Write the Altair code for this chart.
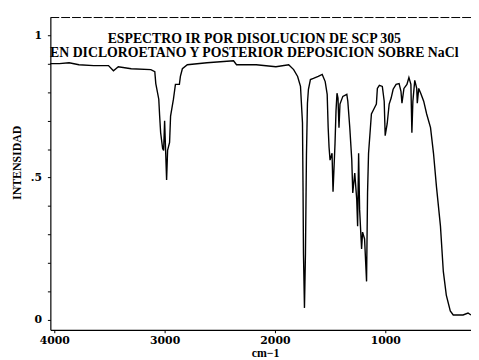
import altair as alt
import pandas as pd

# Spectrum (wavenumber in cm-1, intensity 0..1)
wavenumber = [4036, 3955, 3866, 3777, 3643, 3509, 3464, 3420, 3303, 3125,
              3089, 3080, 3053, 3045, 3036, 3018, 3009, 3000, 2991, 2982,
              2973, 2955, 2946, 2920, 2902, 2866, 2857, 2839, 2794, 2616,
              2375, 2348, 2169, 1991, 1875, 1830, 1794, 1768, 1750, 1745,
              1741, 1732, 1723, 1714, 1705, 1696, 1678, 1651, 1607, 1571,
              1544, 1526, 1517, 1509, 1500, 1482, 1473, 1455, 1446, 1437,
              1428, 1419, 1410, 1384, 1348, 1339, 1321, 1303, 1294, 1276,
              1258, 1250, 1241, 1232, 1214, 1205, 1187, 1169, 1160, 1151,
              1134, 1125, 1098, 1080, 1071, 1053, 1026, 1009, 1000, 982,
              964, 946, 928, 901, 874, 857, 848, 830, 803, 785,
              767, 758, 749, 732, 714, 709, 696, 678, 651, 624,
              589, 562, 535, 499, 473, 446, 410, 383, 294, 249,
              222]
intensity = [0.900, 0.900, 0.903, 0.896, 0.893, 0.893, 0.875, 0.889, 0.882, 0.879,
             0.872, 0.830, 0.775, 0.716, 0.657, 0.602, 0.595, 0.699, 0.595, 0.491,
             0.595, 0.623, 0.716, 0.775, 0.827, 0.827, 0.855, 0.882, 0.896, 0.903,
             0.910, 0.896, 0.896, 0.889, 0.896, 0.879, 0.855, 0.820, 0.692, 0.464,
             0.232, 0.042, 0.232, 0.578, 0.761, 0.810, 0.844, 0.848, 0.855, 0.862,
             0.837, 0.792, 0.675, 0.606, 0.561, 0.585, 0.450, 0.619, 0.734, 0.796,
             0.779, 0.675, 0.758, 0.785, 0.792, 0.768, 0.675, 0.561, 0.446, 0.516,
             0.422, 0.329, 0.585, 0.388, 0.249, 0.308, 0.284, 0.135, 0.446, 0.585,
             0.675, 0.723, 0.744, 0.758, 0.813, 0.824, 0.820, 0.768, 0.647, 0.689,
             0.758, 0.779, 0.810, 0.827, 0.830, 0.803, 0.761, 0.813, 0.827, 0.851,
             0.827, 0.657, 0.768, 0.841, 0.813, 0.761, 0.813, 0.796, 0.768, 0.723,
             0.675, 0.585, 0.467, 0.329, 0.170, 0.087, 0.031, 0.017, 0.017, 0.024,
             0.017]

x_ticks = [4000, 3000, 2000, 1000]
y_ticks = [0, 0.1, 0.2, 0.3, 0.4, 0.5, 0.6, 0.7, 0.8, 0.9, 1]
title_line1 = "ESPECTRO IR POR DISOLUCION DE SCP 305"
title_line2 = "EN DICLOROETANO Y POSTERIOR DEPOSICION SOBRE NaCl"
x_title = "cm\u22121"
y_title = "INTENSIDAD"

df = pd.DataFrame({"wavenumber": wavenumber, "intensity": intensity,
                   "idx": list(range(len(wavenumber)))})
one = pd.DataFrame({"k": [0]})

W, H = 427, 317
FONT = "Liberation Serif"
LFONT = "DejaVu Serif"

x_enc = alt.X("wavenumber:Q",
              scale=alt.Scale(domain=[222, 4036], reverse=True, nice=False, zero=False),
              axis=alt.Axis(values=x_ticks, format="d", title=x_title, grid=False,
                            domainColor="black", domainWidth=1.2, tickColor="black",
                            tickSize=3, labelPadding=2, labelFont=LFONT, labelFontSize=11,
                            labelFontWeight="bold", labelColor="black",
                            titleFont=FONT, titleFontSize=12, titleFontWeight="bold",
                            titleColor="black", titleX=218, titleY=27,
                            titleBaseline="alphabetic"))
y_enc = alt.Y("intensity:Q",
              scale=alt.Scale(domain=[-0.035, 1.062], nice=False, zero=False),
              axis=alt.Axis(values=y_ticks,
                            labelExpr="datum.value == 0 ? '0' : (abs(datum.value - 0.5) < 0.001 ? '.5' : (datum.value == 1 ? '1' : ''))",
                            title=y_title, grid=False, domainColor="black", domainWidth=1.2,
                            tickColor="black", tickSize=3, labelPadding=6, labelFont=LFONT,
                            labelFontSize=11, labelFontWeight="bold", labelColor="black",
                            titleFont=FONT, titleFontSize=12, titleFontWeight="bold",
                            titleColor="black", titleX=-27, titleY=147))

spectrum = alt.Chart(df).mark_line(color="black", strokeWidth=1.4).encode(
    x=x_enc, y=y_enc, order="idx:Q")

top_frame = alt.Chart(one).mark_rule(color="black", strokeWidth=1, strokeDash=[9, 2]).encode(
    x=alt.value(0), x2=alt.value(W), y=alt.value(0))

head1 = alt.Chart(one).mark_text(text=title_line1, font=FONT, fontSize=14, fontWeight="bold",
                                 color="black", align="center", baseline="middle").encode(
    x=alt.value(207), y=alt.value(22))
head2 = alt.Chart(one).mark_text(text=title_line2, font=FONT, fontSize=14, fontWeight="bold",
                                 color="black", align="center", baseline="middle").encode(
    x=alt.value(207), y=alt.value(36))

chart = alt.layer(spectrum, top_frame, head1, head2).properties(
    width=W, height=H,
    autosize=alt.AutoSizeParams(type="none"),
    padding={"left": 43, "top": 7, "right": 0, "bottom": 28},
    background="white",
).configure_view(stroke=None)

chart.save("out.html", embed_options={"renderer": "svg", "actions": False})
